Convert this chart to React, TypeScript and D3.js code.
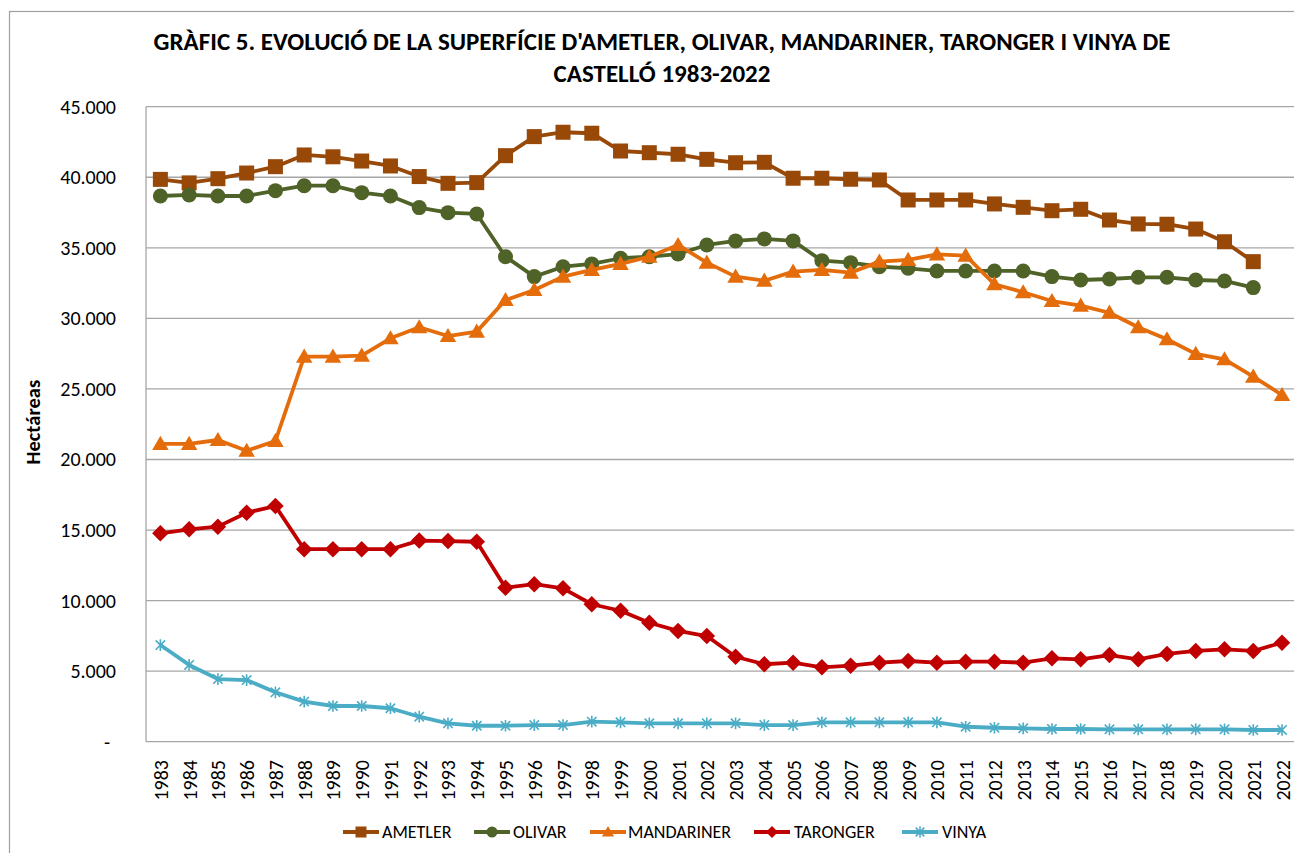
import React from "react";
import * as d3 from "d3";

const years: string[] = d3.range(1983, 2023).map(String);

const ametler: (number | null)[] = [39850, 39600, 39900, 40300, 40750, 41580, 41450, 41150, 40800, 40050, 39570, 39620, 41530, 42880, 43190, 43120, 41860, 41740, 41630, 41270, 41030, 41060, 39930, 39930, 39860, 39810, 38390, 38390, 38390, 38110, 37870, 37630, 37730, 36970, 36690, 36670, 36330, 35430, 34020, null];
const olivar: (number | null)[] = [38670, 38750, 38670, 38670, 39050, 39400, 39400, 38910, 38670, 37850, 37490, 37400, 34370, 32960, 33660, 33860, 34260, 34370, 34560, 35200, 35490, 35630, 35490, 34090, 33950, 33660, 33550, 33360, 33360, 33360, 33360, 32960, 32720, 32790, 32910, 32910, 32720, 32650, 32180, null];
const mandariner: (number | null)[] = [21100, 21100, 21380, 20620, 21310, 27290, 27290, 27360, 28590, 29370, 28750, 29060, 31300, 32010, 32960, 33430, 33860, 34370, 35200, 33950, 32960, 32670, 33310, 33430, 33240, 34020, 34140, 34540, 34440, 32420, 31850, 31230, 30900, 30400, 29370, 28520, 27480, 27100, 25870, 24570];
const taronger: (number | null)[] = [14770, 15050, 15240, 16230, 16700, 13640, 13640, 13640, 13640, 14250, 14220, 14170, 10910, 11160, 10870, 9740, 9280, 8430, 7850, 7490, 6020, 5490, 5600, 5270, 5390, 5600, 5720, 5600, 5670, 5670, 5600, 5910, 5840, 6140, 5840, 6220, 6430, 6550, 6430, 7020];
const vinya: (number | null)[] = [6850, 5440, 4440, 4370, 3500, 2840, 2530, 2530, 2370, 1770, 1300, 1130, 1130, 1180, 1180, 1420, 1370, 1300, 1300, 1300, 1300, 1180, 1180, 1370, 1370, 1370, 1370, 1370, 1060, 990, 950, 900, 900, 880, 880, 880, 880, 880, 830, 830];

const seriesNames = ["AMETLER", "OLIVAR", "MANDARINER", "TARONGER", "VINYA"];
const seriesValues = [ametler, olivar, mandariner, taronger, vinya];
const seriesColors = ["#984807", "#4F6228", "#E46C0A", "#C00000", "#4BACC6"];
const seriesMarkers = ["square", "circle", "triangle", "diamond", "star"];

const yTicks = [0, 5000, 10000, 15000, 20000, 25000, 30000, 35000, 40000, 45000];

const titleLines = [
  "GRÀFIC 5. EVOLUCIÓ DE LA SUPERFÍCIE D'AMETLER, OLIVAR, MANDARINER, TARONGER I VINYA DE",
  "CASTELLÓ 1983-2022",
];
const yTitle = "Hectáreas";

const FONT = "Carlito, 'Liberation Sans Narrow', 'Liberation Sans', Arial, sans-serif";
const W = 1294;
const H = 853;
const plot = { left: 146, right: 1296.4, top: 106.7, bottom: 741.7 };

const fmt = (v: number) => (v === 0 ? "-" : d3.format(",")(v).replace(/,/g, "."));

function Marker({ type, x, y, color, s }: { type: string; x: number; y: number; color: string; s: number }) {
  if (type === "square") {
    return <rect x={x - s / 2} y={y - s / 2} width={s} height={s} fill={color} />;
  }
  if (type === "circle") {
    return <circle cx={x} cy={y} r={s / 2} fill={color} />;
  }
  if (type === "triangle") {
    const h = s * 0.9;
    return (
      <path
        d={`M${x},${y - h * 0.6} L${x + s * 0.55},${y + h * 0.45} L${x - s * 0.55},${y + h * 0.45} Z`}
        fill={color}
      />
    );
  }
  if (type === "diamond") {
    const r = s * 0.55;
    return <path d={`M${x},${y - r} L${x + r},${y} L${x},${y + r} L${x - r},${y} Z`} fill={color} />;
  }
  const r = s * 0.45;
  const d = r * 0.8;
  return (
    <path
      d={`M${x},${y - r} L${x},${y + r} M${x - d},${y - d} L${x + d},${y + d} M${x - d},${y + d} L${x + d},${y - d}`}
      stroke={color}
      strokeWidth={1.6}
      fill="none"
    />
  );
}

export default function App() {
  const x = d3.scalePoint<string>().domain(years).range([plot.left, plot.right]).padding(0.5);
  const y = d3.scaleLinear().domain([0, 45000]).range([plot.bottom, plot.top]);

  const line = d3
    .line<number | null>()
    .defined((d) => d !== null)
    .x((_, i) => x(years[i]) as number)
    .y((d) => y(d as number));

  const legendItems = [
    { lineStart: 343, text: 382 },
    { lineStart: 474, text: 513 },
    { lineStart: 590, text: 628 },
    { lineStart: 754, text: 794 },
    { lineStart: 902, text: 942 },
  ];
  const legendY = 832;

  return (
    <svg
      width={W}
      height={H}
      style={{ position: "absolute", left: 0, top: 0, background: "#fff", fontFamily: FONT }}
    >
      <rect x={0} y={0} width={W} height={H} fill="#fff" />
      <rect x={9.5} y={11.5} width={W + 20} height={H + 20} fill="none" stroke="#A0A0A0" strokeWidth={1.2} />

      {titleLines.map((t, i) => (
        <text
          key={i}
          x={662}
          y={41 + i * 32}
          textAnchor="middle"
          dominantBaseline="central"
          fontWeight="bold"
          fontSize={25}
          fill="#000"
        >
          {t}
        </text>
      ))}

      {yTicks.map((t) => (
        <line
          key={t}
          x1={plot.left}
          x2={plot.right}
          y1={y(t)}
          y2={y(t)}
          stroke="#A6A6A6"
          strokeWidth={1.3}
        />
      ))}
      <line x1={plot.left} x2={plot.left} y1={plot.top} y2={plot.bottom} stroke="#A6A6A6" strokeWidth={1.3} />

      {yTicks.map((t) => (
        <text
          key={t}
          x={t === 0 ? 110 : 116}
          y={y(t)}
          textAnchor="end"
          dominantBaseline="central"
          fontSize={20}
          fill="#000"
        >
          {fmt(t)}
        </text>
      ))}

      <text
        transform={`translate(33,${(plot.top + plot.bottom) / 2 - 2}) rotate(-90)`}
        textAnchor="middle"
        dominantBaseline="central"
        fontWeight="bold"
        fontSize={20.5}
        fill="#000"
      >
        {yTitle}
      </text>

      {years.map((yr) => (
        <text
          key={yr}
          transform={`translate(${(x(yr) as number) + 0.5},760) rotate(-90)`}
          textAnchor="end"
          dominantBaseline="central"
          fontSize={20}
          fill="#000"
        >
          {yr}
        </text>
      ))}

      {seriesValues.map((vals, si) => (
        <g key={seriesNames[si]}>
          <path d={line(vals) || ""} fill="none" stroke={seriesColors[si]} strokeWidth={3.8} strokeLinejoin="round" />
          {vals.map((v, i) =>
            v === null ? null : (
              <Marker
                key={i}
                type={seriesMarkers[si]}
                x={x(years[i]) as number}
                y={y(v)}
                color={seriesColors[si]}
                s={si === 4 ? 13 : 15}
              />
            )
          )}
        </g>
      ))}

      {seriesNames.map((name, si) => {
        const it = legendItems[si];
        const cx = it.lineStart + 18;
        return (
          <g key={name}>
            <line
              x1={it.lineStart}
              x2={it.lineStart + 36}
              y1={legendY}
              y2={legendY}
              stroke={seriesColors[si]}
              strokeWidth={4}
            />
            <Marker type={seriesMarkers[si]} x={cx} y={legendY} color={seriesColors[si]} s={si === 4 ? 12 : 11} />
            <text x={it.text} y={legendY} dominantBaseline="central" fontSize={18} fill="#000">
              {name}
            </text>
          </g>
        );
      })}
    </svg>
  );
}
